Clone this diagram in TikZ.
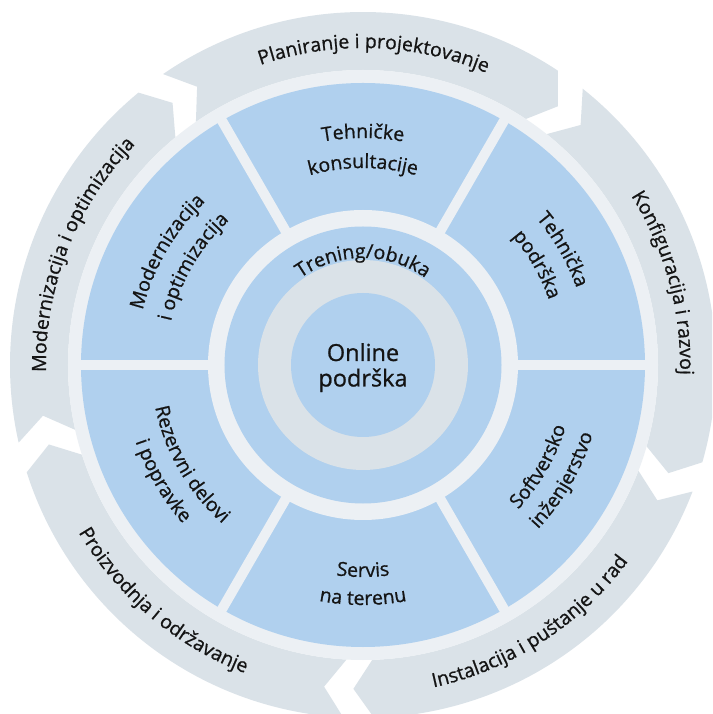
\documentclass[tikz,border=0pt]{standalone}
\usepackage{fontspec}
\setmainfont{Open Sans}[FakeBold=0.8]
\usetikzlibrary{decorations.text}
\definecolor{segblue}{HTML}{B0D0EE}
\definecolor{ringgray}{HTML}{DAE2E8}
\definecolor{ringlight}{HTML}{ECF0F4}
\definecolor{txt}{HTML}{141414}
\newcommand\segfont{\fontsize{19.5}{24}\selectfont}
\newcommand\bigfont{\fontsize{23.5}{26}\selectfont}
\begin{document}
\begin{tikzpicture}[
  arctext/.style={decorate, decoration={text along path, text align=center, text color=txt, text={#1}}},
  centertext/.style={font=\bigfont, text=txt, anchor=base, inner sep=0pt}
]
\useasboundingbox (-363pt,-349pt) rectangle (349pt,365pt);
\clip (-363pt,-349pt) rectangle (349pt,365pt);
\fill[white] (-363pt,-349pt) rectangle (349pt,365pt);
% outer chevron ring
\foreach \gs/\ge in {127/54, 54/-18.5, -18.5/-90.7, -90.7/-164.8, 195.2/127}{
  \pgfmathsetmacro\sa{\gs-2.5}
  \pgfmathsetmacro\ea{\ge+2.5}
  \pgfmathsetmacro\tip{\ge-1}
  \pgfmathsetmacro\notch{\gs-6.2}
  \fill[ringgray] (\sa:353pt) arc[start angle=\sa, end angle=\ea, radius=353pt]
     -- (\tip:324pt) -- (\ea:295pt)
     arc[start angle=\ea, end angle=\sa, radius=295pt]
     -- (\notch:324pt) -- cycle;
}
% rings
\fill[ringlight] (0,0) circle[radius=295pt];
\fill[segblue] (0,0) circle[radius=282pt];
\fill[ringlight] (0,0) circle[radius=155pt];
\foreach \a in {0,60,...,300}{
  \draw[ringlight, line width=10pt] (\a:150pt) -- (\a:287pt);
}
\fill[segblue] (0,0) circle[radius=138.5pt];
\fill[ringgray] (0,0) circle[radius=105pt];
\fill[segblue] (0,0) circle[radius=72pt];
% center text
\node[centertext] (online1) at (0,4pt) {Online};
\node[centertext] (online2) at (0,-21.5pt) {podrška};
% Trening
\path[arctext={|\segfont|Trening/obuka}] (150:107pt) arc[start angle=150, end angle=30, radius=107pt];
% segment texts, upper half (clockwise, tops outward)
\foreach \t/\la/\lb in {90/Tehničke/konsultacije, 30/Tehnička/podrška, 150/Modernizacija/i optimizacija}{
  \pgfmathsetmacro\sa{\t+28}
  \pgfmathsetmacro\ea{\t-28}
  \path[arctext={|\segfont|\la}] (\sa:227pt) arc[start angle=\sa, end angle=\ea, radius=227pt];
  \path[arctext={|\segfont|\lb}] (\sa:197pt) arc[start angle=\sa, end angle=\ea, radius=197pt];
}
% segment texts, lower half (counter-clockwise, tops inward)
\foreach \t/\la/\lb in {210/Rezervni delovi/i popravke, 270/Servis/na terenu, 330/Softversko/inženjerstvo}{
  \pgfmathsetmacro\sa{\t-28}
  \pgfmathsetmacro\ea{\t+28}
  \path[arctext={|\segfont|\la}] (\sa:212pt) arc[start angle=\sa, end angle=\ea, radius=212pt];
  \path[arctext={|\segfont|\lb}] (\sa:240pt) arc[start angle=\sa, end angle=\ea, radius=240pt];
}
% outer ring texts
\foreach \c/\lab in {88/Planiranje i projektovanje, 15.25/Konfiguracija i razvoj, 158.6/Modernizacija i optimizacija}{
  \pgfmathsetmacro\sa{\c+33}
  \pgfmathsetmacro\ea{\c-33}
  \path[arctext={|\segfont|\lab}] (\sa:317pt) arc[start angle=\sa, end angle=\ea, radius=317pt];
}
\foreach \c/\lab in {-57.1/Instalacija i puštanje u rad, -130.25/Proizvodnja i održavanje}{
  \pgfmathsetmacro\sa{\c-33}
  \pgfmathsetmacro\ea{\c+33}
  \path[arctext={|\segfont|\lab}] (\sa:330pt) arc[start angle=\sa, end angle=\ea, radius=330pt];
}
\end{tikzpicture}
\end{document}
